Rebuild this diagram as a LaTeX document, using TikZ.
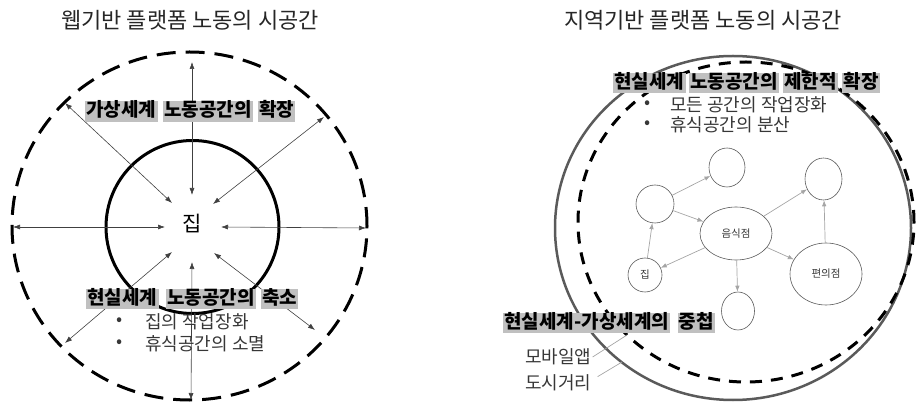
\documentclass[tikz,border=0pt]{standalone}
\usepackage{fontspec}
\setmainfont{Noto Sans CJK KR}
\usetikzlibrary{arrows.meta,shapes.geometric,positioning}
\definecolor{boxgray}{RGB}{192,192,192}
\definecolor{circgray}{RGB}{90,90,90}
\definecolor{edgegray}{RGB}{165,165,165}
\definecolor{txtgray}{RGB}{55,55,55}
\begin{document}
\begin{tikzpicture}[x=1pt,y=-1pt,
  wordbox/.style={fill=boxgray, inner xsep=1.2pt, inner ysep=1pt, text height=14.5pt, text depth=4pt,
    font=\bfseries\fontsize{19}{20}\selectfont},
  titletext/.style={font=\fontsize{22}{24}\selectfont, text=black!85},
  bultext/.style={font=\fontsize{18}{19}\selectfont, text=txtgray, anchor=west, inner sep=0pt},
  biarrow/.style={{Latex[length=7pt,width=5pt]}-{Latex[length=7pt,width=5pt]}, line width=0.6pt, black!75},
  gedge/.style={-{Latex[length=6pt,width=4.5pt]}, edgegray, line width=0.7pt},
  gnode/.style={ellipse, draw=circgray, line width=0.6pt, inner sep=0pt, font=\fontsize{10.5}{11}\selectfont, text=txtgray},
  leader/.style={edgegray, line width=0.7pt}
]
\useasboundingbox (0,0) rectangle (916,403);

% ---------------- Left ----------------
\node[titletext] (ltitle) at (190,20) {웹기반 플랫폼 노동의 시공간};

\draw[line width=3pt, dash pattern=on 19pt off 10pt] (189.5,226) ellipse [x radius=177.5pt, y radius=174pt];
\draw[line width=3pt] (192.5,227) circle [radius=86.5pt];

\node[font=\fontsize{21}{21}\selectfont, inner sep=0pt] (home) at (192,224) {집};

\coordinate (oU) at (192,62);   \coordinate (iU) at (192,195);
\coordinate (oUL) at (65,103);  \coordinate (iUL) at (172,203);
\coordinate (oUR) at (324,117); \coordinate (iUR) at (213,204);
\coordinate (oL) at (13,227);   \coordinate (iL) at (165,227);
\coordinate (oR) at (366,228);  \coordinate (iR) at (221,227);
\coordinate (oDL) at (65,343);  \coordinate (iDL) at (172,252);
\coordinate (oD) at (191,400);  \coordinate (iD) at (192,262);
\coordinate (oDR) at (315,330); \coordinate (iDR) at (214,253);
\foreach \k in {U,UL,UR,L,R,DL,D,DR}{\draw[biarrow] (o\k) -- (i\k);}

\node[wordbox, anchor=west] (lt1) at (85,111.5) {가상세계};
\node[wordbox, right=5pt of lt1] (lt2) {노동공간의};
\node[wordbox, right=5pt of lt2] (lt3) {확장};

\node[wordbox, anchor=west] (lb1) at (86,299) {현실세계};
\node[wordbox, right=7pt of lb1] (lb2) {노동공간의};
\node[wordbox, right=5pt of lb2] (lb3) {축소};

\node[bultext] (lbul1) at (116,322) {•};
\node[bultext] (lbt1) at (145,322) {집의 작업장화};
\node[bultext] (lbul2) at (116,344) {•};
\node[bultext] (lbt2) at (145,344) {휴식공간의 소멸};

% ---------------- Right ----------------
\node[titletext] (rtitle) at (703,20) {지역기반 플랫폼 노동의 시공간};

\draw[circgray, line width=2.5pt] (733,228) ellipse [x radius=178pt, y radius=172pt];
\draw[line width=3pt, dash pattern=on 12pt off 9pt] (746,222) ellipse [x radius=168pt, y radius=160pt];

\node[gnode, minimum width=36pt, minimum height=39pt] (nA) at (727,167.5) {};
\node[gnode, minimum width=38pt, minimum height=38pt] (nB) at (655,204) {};
\node[gnode, minimum width=72pt, minimum height=53pt] (food) at (736,233.5) {음식점};
\node[gnode, minimum width=34pt, minimum height=34pt] (jip) at (645,275) {집};
\node[gnode, minimum width=33pt, minimum height=38pt] (nD) at (738,311) {};
\node[gnode, minimum width=72pt, minimum height=62pt] (conv) at (826,274) {편의점};
\node[gnode, minimum width=37pt, minimum height=42pt] (nTR) at (823.5,179) {};

\draw[gedge] (nB) -- (nA);
\draw[gedge] (nB) -- (food);
\draw[gedge] (jip) -- (nB);
\draw[gedge] (food) -- (jip);
\draw[gedge] (food) -- (nTR);
\draw[gedge] (food) -- (nD);
\draw[gedge] (food) -- (conv);
\draw[gedge] (conv) -- (nTR);

\node[wordbox, anchor=west] (rt1) at (613,83) {현실세계};
\node[wordbox, right=3pt of rt1] (rt2) {노동공간의};
\node[wordbox, right=4pt of rt2] (rt3) {제한적};
\node[wordbox, right=4pt of rt3] (rt4) {확장};

\node[bultext] (rbul1) at (644,105) {•};
\node[bultext] (rbt1) at (670,105) {모든 공간의 작업장화};
\node[bultext] (rbul2) at (644,125) {•};
\node[bultext] (rbt2) at (670,125) {휴식공간의 분산};

\node[wordbox, anchor=west] (rb1) at (503,323) {현실세계-가상세계의};
\node[wordbox, right=7pt of rb1] (rb2) {중첩};

\node[bultext, font=\fontsize{18}{19}\selectfont] (mob) at (525,357) {모바일앱};
\node[bultext, font=\fontsize{18}{19}\selectfont] (city) at (525,383) {도시거리};
\coordinate (mobtip) at (627,335);
\coordinate (citytip) at (622,362);
\draw[leader] ([xshift=1pt]mob.east) -- (mobtip);
\draw[leader] ([xshift=6pt,yshift=-2pt]city.north east) -- (citytip);
\end{tikzpicture}
\end{document}
